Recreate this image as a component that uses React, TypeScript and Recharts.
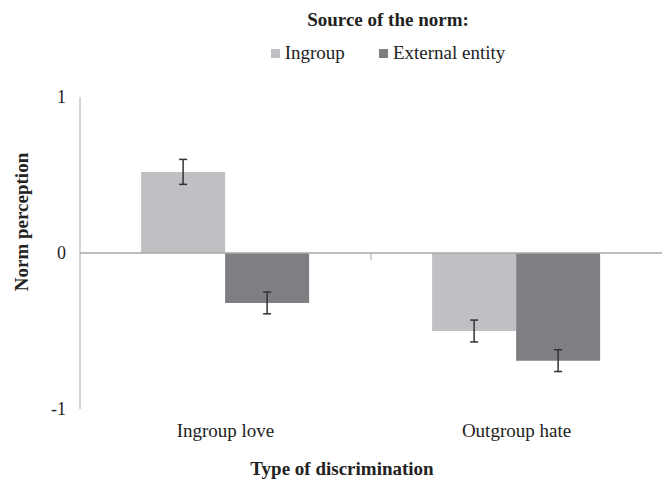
import { BarChart, Bar, XAxis, YAxis, ReferenceLine, ErrorBar } from "recharts";

const CATEGORIAS = ["Ingroup love", "Outgroup hate"];
const INGROUP = [0.52, -0.5];
const INGROUP_ERR = [0.08, 0.07];
const EXTERNA = [-0.32, -0.69];
const EXTERNA_ERR = [0.07, 0.07];
const TICKS_Y = [-1, 0, 1];

const COLORES = {
  ingroup: "#BFC0C4",
  externa: "#7E7F83",
  eje: "#A8A8A8",
};

const FUENTE = "'Liberation Serif', 'Times New Roman', serif";

const datos = CATEGORIAS.map((c, i) => ({
  categoria: c,
  ingroup: INGROUP[i],
  ingroupErr: INGROUP_ERR[i],
  externa: EXTERNA[i],
  externaErr: EXTERNA_ERR[i],
}));

// marca pequeña en el medio de la línea de cero (separador de categorías)
const MarcaCentro = (props: any) => {
  const vb = props.viewBox || {};
  const cx = vb.x + vb.width / 2;
  return <line x1={cx} x2={cx} y1={vb.y} y2={vb.y + 7} stroke={COLORES.eje} strokeWidth={1} />;
};

export default function App() {
  return (
    <div style={{ position: "absolute", left: 0, top: 0, width: 662, height: 483, fontFamily: FUENTE, color: "#222" }}>
      {/* leyenda */}
      <div style={{ position: "absolute", left: 0, width: 776, top: 9, textAlign: "center", fontWeight: "bold", fontSize: 19 }}>
        Source of the norm:
      </div>
      <div style={{ position: "absolute", left: 0, width: 776, top: 42, display: "flex", justifyContent: "center", fontSize: 19 }}>
        <span style={{ display: "flex", alignItems: "center", marginRight: 34 }}>
          <span style={{ width: 9, height: 9, background: COLORES.ingroup, marginRight: 5 }} />
          Ingroup
        </span>
        <span style={{ display: "flex", alignItems: "center" }}>
          <span style={{ width: 9, height: 9, background: COLORES.externa, marginRight: 5 }} />
          External entity
        </span>
      </div>

      {/* titulo eje Y */}
      <div
        style={{
          position: "absolute",
          left: 22,
          top: 222,
          transform: "translate(-50%, -50%) rotate(-90deg)",
          whiteSpace: "nowrap",
          fontWeight: "bold",
          fontSize: 19,
        }}
      >
        Norm perception
      </div>

      {/* titulo eje X */}
      <div style={{ position: "absolute", left: 0, width: 684, top: 458, textAlign: "center", fontWeight: "bold", fontSize: 19 }}>
        Type of discrimination
      </div>

      <BarChart
        width={662}
        height={483}
        data={datos}
        margin={{ top: 97, right: 0, bottom: 44, left: 0 }}
        barCategoryGap="21%"
        barGap={0}
      >
        <YAxis
          domain={[-1, 1]}
          ticks={TICKS_Y}
          width={80}
          tickLine={false}
          axisLine={{ stroke: COLORES.eje }}
          tickMargin={8}
          tick={{ fontSize: 18, fill: "#222", fontFamily: FUENTE }}
          allowDataOverflow
        />
        <XAxis
          dataKey="categoria"
          axisLine={false}
          tickLine={false}
          tickMargin={9}
          tick={{ fontSize: 19, fill: "#222", fontFamily: FUENTE }}
        />
        <ReferenceLine y={0} stroke={COLORES.eje} strokeWidth={1.5} label={<MarcaCentro />} />
        <Bar dataKey="ingroup" fill={COLORES.ingroup} isAnimationActive={false}>
          <ErrorBar dataKey="ingroupErr" width={4} stroke="#333" strokeWidth={1.5} />
        </Bar>
        <Bar dataKey="externa" fill={COLORES.externa} isAnimationActive={false}>
          <ErrorBar dataKey="externaErr" width={4} stroke="#333" strokeWidth={1.5} />
        </Bar>
      </BarChart>
    </div>
  );
}
